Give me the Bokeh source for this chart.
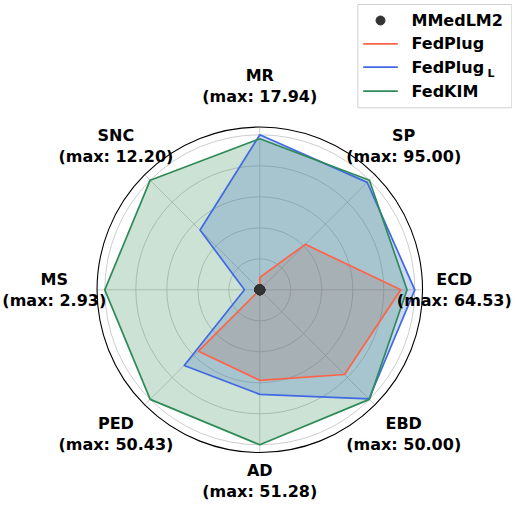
import numpy as np
from bokeh.plotting import figure
from bokeh.models import Range1d
from bokeh.core.properties import value
from bokeh.embed import file_html
from bokeh.resources import INLINE

# metrics around the radar, clockwise from the top
metrics = ["MR", "SP", "ECD", "EBD", "AD", "PED", "MS", "SNC"]
max_scores = [17.94, 95.00, 64.53, 50.00, 51.28, 50.43, 2.93, 12.20]

# raw scores per method
mmedlm2 = [0.0, 0.0, 0.0, 0.0, 0.0, 0.0, 0.0, 0.0]
fedplug = [1.44, 39.4, 58.7, 38.65, 29.95, 28.24, 0.0, 0.0]
fedplug_l = [17.94, 93.1, 64.53, 49.8, 34.61, 34.8, 0.29, 6.65]
fedkim = [17.49, 95.00, 61.30, 50.00, 51.28, 50.43, 2.93, 12.20]

series = [
    ("FedPlug", fedplug, "#ff6347"),
    ("FedPlugL", fedplug_l, "#4169e1"),
    ("FedKIM", fedkim, "#2e8b57"),
]

FONT = value("DejaVu Sans")

# pixel geometry -> data units, radius 1.0 == 155 px
W, H = 512, 503
S = 155.0
CX, CY = 259.3, 289.3


def fx(px):
    return (px - CX) / S


def fy(py):
    return (CY - py) / S


p = figure(width=W, height=H, output_backend="svg", toolbar_location=None,
           x_range=Range1d(fx(0), fx(W)), y_range=Range1d(fy(H), fy(0)),
           x_axis_location=None, y_axis_location=None, min_border=0)
p.grid.visible = False
p.outline_line_color = None

n = len(metrics)
theta = np.pi / 2 - 2 * np.pi * np.arange(n) / n
maxes = np.array(max_scores)


def to_xy(vals):
    r = np.array(vals) / maxes
    return r * np.cos(theta), r * np.sin(theta)


# grid
for r in [0.2, 0.4, 0.6, 0.8, 1.0]:
    p.circle(x=0, y=0, radius=r, fill_color=None, line_color="#c0c0c0", line_width=0.8)
p.segment(x0=0, y0=0, x1=1.05 * np.cos(theta), y1=1.05 * np.sin(theta),
          line_color="#c0c0c0", line_width=0.8)
p.circle(x=0, y=0, radius=1.05, fill_color=None, line_color="black", line_width=1.1)

# series: fills first, outlines on top
for name, vals, color in series:
    xs, ys = to_xy(vals)
    p.patch(list(xs), list(ys), fill_color=color, fill_alpha=0.25, line_color=None)
for name, vals, color in series:
    xs, ys = to_xy(vals)
    p.line(list(xs) + [xs[0]], list(ys) + [ys[0]], line_color=color, line_width=1.7)

mx, my = to_xy(mmedlm2)
p.scatter(mx, my, size=10, color="#333333")

# axis labels (a few nudged so they stay inside the canvas)
labels = [f"{m}\n(max: {v:.2f})" for m, v in zip(metrics, max_scores)]
lr = 1.313
nudge_x = {"ECD": -9, "MS": -2}
nudge_y = {"AD": 12}
p.text(x=lr * np.cos(theta), y=lr * np.sin(theta), text=labels,
       x_offset=[nudge_x.get(m, 0) for m in metrics],
       y_offset=[-nudge_y.get(m, 0) for m in metrics],
       text_align="center", text_baseline="middle", text_line_height=1.12,
       text_font=FONT, text_font_style="bold", text_font_size="16px", text_color="black")

# legend
p.quad(left=fx(357.3), right=fx(511.3), top=fy(4), bottom=fy(107.3),
       fill_color="white", fill_alpha=0.8, line_color="#d0d0d0", line_width=1)
rows = [20, 43.3, 66.7, 90.7]
p.scatter([fx(380)], [fy(rows[0])], size=9, color="#333333")
for (name, vals, color), yy in zip(series, rows[1:]):
    p.line([fx(362.7), fx(397.3)], [fy(yy), fy(yy)], line_color=color, line_width=1.7)
legend_names = ["MMedLM2", "FedPlug", "FedPlug", "FedKIM"]
p.text(x=[fx(411)] * 4, y=[fy(yy) for yy in rows], text=legend_names,
       text_align="left", text_baseline="middle",
       text_font=FONT, text_font_style="bold", text_font_size="16px", text_color="black")
p.text(x=[fx(487)], y=[fy(rows[2] + 6)], text=["L"],
       text_align="left", text_baseline="middle",
       text_font=FONT, text_font_style="bold", text_font_size="11px", text_color="black")

open("out.html", "w").write(file_html(p, INLINE))
